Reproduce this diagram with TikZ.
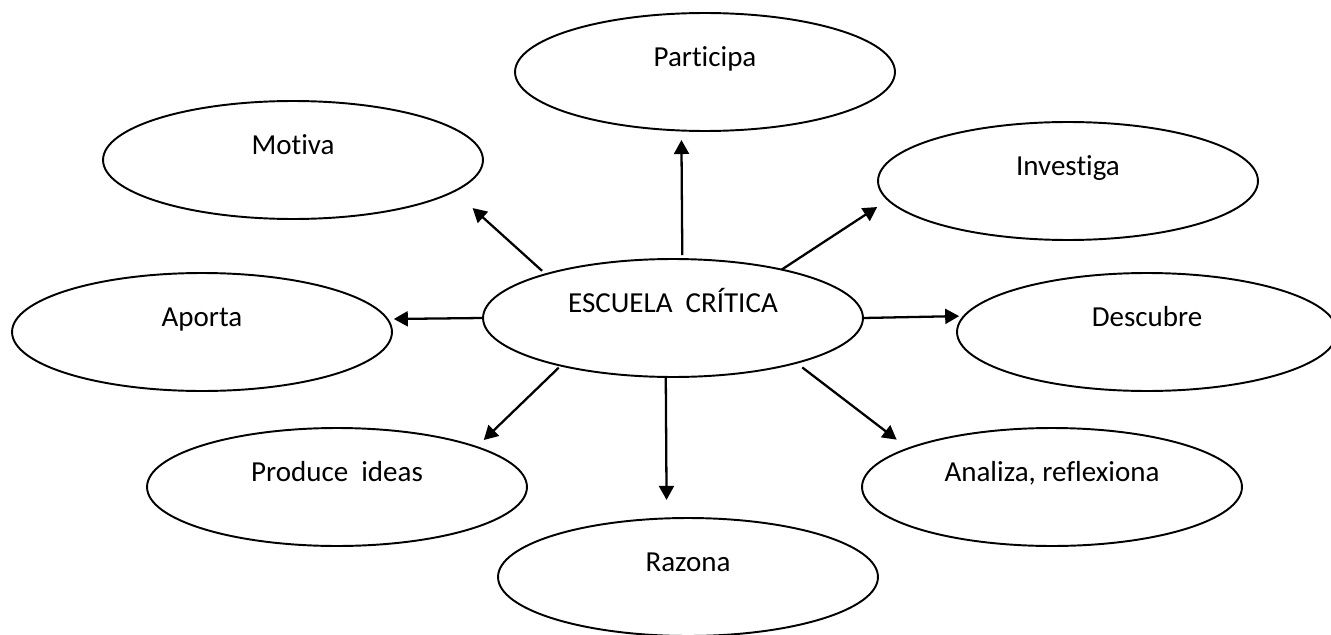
\documentclass[tikz,border=0pt]{standalone}
\usepackage{fontspec}
\setmainfont{Carlito}[Ligatures=NoCommon]
\usetikzlibrary{shapes.geometric,arrows.meta}
\begin{document}
\begin{tikzpicture}[x=0.02cm,y=-0.02cm,
    idea/.style={draw,ellipse,line width=1.1pt,minimum width=7.6cm,minimum height=2.36cm,
        outer sep=0pt,font=\fontsize{16.5}{20}\selectfont,text height=12pt,text depth=18.4pt},
    flecha/.style={line width=1.3pt,-{Triangle[length=0.28cm,width=0.3cm]}}]
    \useasboundingbox (0,0) rectangle (1331,635);
    \node[idea] (critica) at (673,318) {ESCUELA\ \ CRÍTICA};
    \node[idea] (participa) at (705,72) {Participa};
    \node[idea] (motiva) at (293,160) {Motiva};
    \node[idea] (investiga) at (1068,181) {Investiga};
    \node[idea] (aporta) at (202,332) {Aporta};
    \node[idea] (descubre) at (1147,332) {Descubre};
    \node[idea] (produce) at (337,487) {Produce\ \ ideas};
    \node[idea] (analiza) at (1052,487) {Analiza, reflexiona};
    \node[idea] (razona) at (688,577) {Razona};
    % flechas desde el centro
    \draw[flecha,shorten <=0.08cm,shorten >=0.19cm] (critica.81) -- (participa.248.6);
    \draw[flecha,shorten <=0.1cm,shorten >=0.5cm] (critica.161) -- (motiva.-11);
    \draw[flecha,shorten >=0.26cm] (critica.24) -- (investiga.186);
    \draw[flecha,shorten >=0.13cm] (critica.180) -- (aporta.4.3);
    \draw[flecha,shorten >=0.1cm] (critica.0) -- (descubre.175.7);
    \draw[flecha,shorten <=0.06cm,shorten >=0.2cm] (critica.203.8) -- (produce.16.2);
    \draw[flecha,shorten >=0.37cm] (critica.263.2) -- (razona.110.6);
    \draw[flecha,shorten <=0.15cm,shorten >=0.29cm] (critica.-20.4) -- (analiza.165.9);
\end{tikzpicture}
\end{document}
